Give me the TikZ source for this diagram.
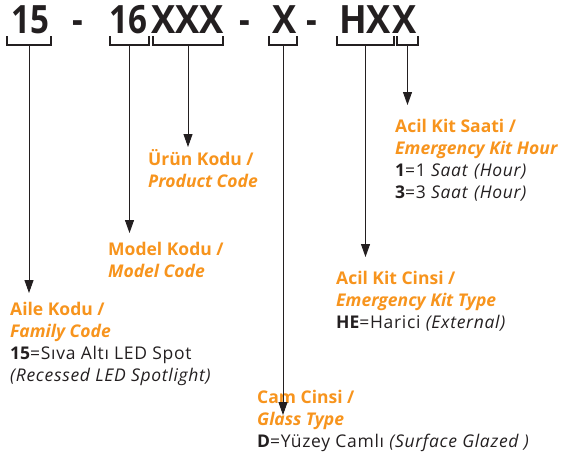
\documentclass[tikz,border=0pt]{standalone}
\usepackage{fontspec}
\setmainfont{Open Sans}[UprightFeatures={LetterSpace=4}, ItalicFeatures={LetterSpace=4}]
\newfontfamily\headfont[FakeStretch=0.85]{Open Sans}
\newfontfamily\headletters[FakeStretch=0.93]{Open Sans}
\usetikzlibrary{arrows.meta,positioning}

\definecolor{codeorange}{RGB}{247,148,29}
\definecolor{codeblack}{RGB}{35,31,32}

\tikzset{
  part/.style={anchor=base west, inner sep=0pt, text=codeblack,
    font=\headfont\bfseries\fontsize{39}{39}\selectfont},
  letters/.style={part, font=\headletters\bfseries\fontsize{39}{39}\selectfont},
  brace/.style={line width=1.6pt, codeblack},
  arr/.style={-{Triangle[length=13pt,width=9pt]}, line width=0.9pt, codeblack},
  info/.style={anchor=base west, inner sep=0pt, align=left, text=codeblack,
    font=\fontsize{17.5}{22}\selectfont},
}
\newcommand{\hd}[1]{\textcolor{codeorange}{\bfseries #1}}
\newcommand{\hdi}[1]{\textcolor{codeorange}{\bfseries\itshape #1}}

\begin{document}
\begin{tikzpicture}[x=1pt,y=-1pt]
	\useasboundingbox (0,0) rectangle (565,459);
	% the code
	\node[part] (p15) at (11,33) {15};
	\node[part] (d1) at (72,33) {-};
	\node[part] (p16) at (109,33) {16};
	\node[letters] (pxxx) at (151,33) {XXX};
	\node[part] (d2) at (239,33) {-};
	\node[letters] (px) at (272,33) {X};
	\node[part] (d3) at (306,33) {-};
	\node[letters] (phx) at (339,33) {HX};
	\node[letters] (pxl) at (392,33) {X};
	% brackets under the code
	\foreach \a/\b/\n in {7/51/1, 110/149/2, 153/223/3, 269/297/4, 337/394/5, 397/418/6}{
		\draw[brace] (\a,36) |- (\b,45) -- (\b,36);
		\coordinate (b\n) at ({(\a+\b)/2},45);
	}
	% labels (placed at the baseline of their last line)
	\node[info] (aile) at (10,381) {\hd{Aile Kodu /}\\\hdi{Family Code}\\
		\textbf{15}=Sıva Altı LED Spot\\\textit{(Recessed LED Spotlight)}};
	\node[info] (model) at (108,277) {\hd{Model Kodu /}\\\hdi{Model Code}};
	\node[info] (urun) at (148,187) {\hd{Ürün Kodu /}\\\hdi{Product Code}};
	\node[info] (cam) at (257,447) {\hd{Cam Cinsi /}\\\hdi{Glass Type}\\
		\textbf{D}=Yüzey Camlı \textit{(Surface Glazed )}};
	\node[info] (cinsi) at (336,328) {\hd{Acil Kit Cinsi /}\\\hdi{Emergency Kit Type}\\
		\textbf{HE}=Harici \textit{(External)}};
	\node[info] (saati) at (395,198) {\hd{Acil Kit Saati /}\\\hdi{Emergency Kit Hour}\\
		\textbf{1}=1 \textit{Saat} \textit{(Hour)}\\\textbf{3}=3 \textit{Saat} \textit{(Hour)}};
	% arrow tips
	\coordinate (t1) at (29,293);
	\coordinate (t2) at (129.5,233);
	\coordinate (t3) at (188,147);
	\coordinate (t4) at (283,415);
	\coordinate (t5) at (365.5,257);
	\coordinate (t6) at (407.5,105);
	\foreach \n in {1,...,6}
		\draw[arr] (b\n) -- (t\n);
\end{tikzpicture}
\end{document}
